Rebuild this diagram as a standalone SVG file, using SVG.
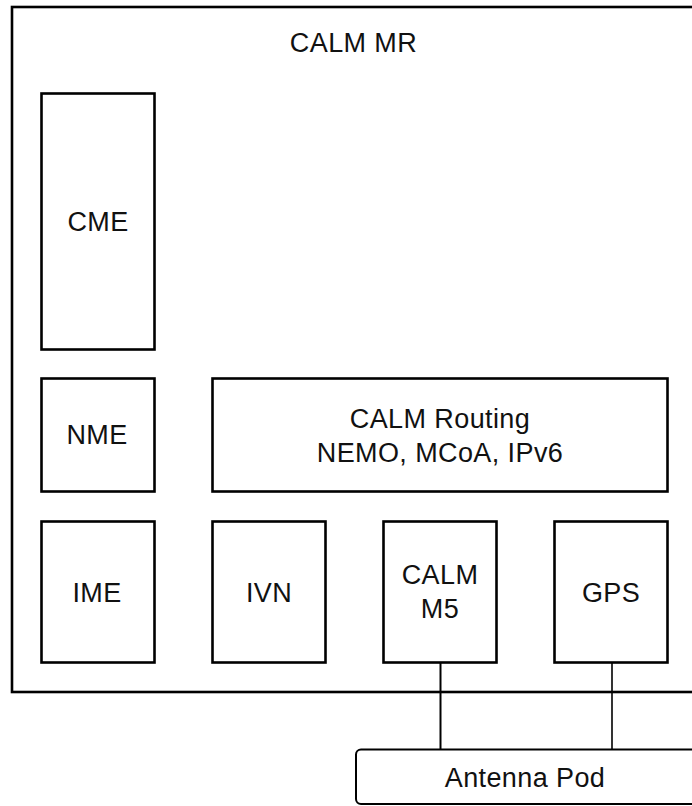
<svg xmlns="http://www.w3.org/2000/svg" width="692" height="806" viewBox="0 0 692 806">
<style>
.box{fill:#fff;stroke:#000;stroke-width:2.6}
.t{font-family:"Liberation Sans",Arial,sans-serif;font-size:27px;fill:#111;text-anchor:middle;letter-spacing:0.4px}
.ln{stroke:#000;fill:none}
</style>
<rect width="692" height="806" fill="#fff"/>
<g id="calm-mr">
<rect class="box" x="12" y="7" width="684" height="685"/>
<text class="t" x="353.5" y="52">CALM MR</text>
</g>
<g id="cme">
<rect class="box" x="41.5" y="93.5" width="113" height="256"/>
<text class="t" x="98" y="231">CME</text>
</g>
<g id="nme">
<rect class="box" x="41.5" y="378.5" width="113" height="113"/>
<text class="t" x="97" y="444">NME</text>
</g>
<g id="calm-routing">
<rect class="box" x="212.5" y="378.5" width="455" height="113"/>
<text class="t" x="440" y="427.5">CALM Routing</text>
<text class="t" x="440" y="461.5">NEMO, MCoA, IPv6</text>
</g>
<g id="ime">
<rect class="box" x="41.5" y="521.5" width="113" height="141"/>
<text class="t" x="97" y="601.5">IME</text>
</g>
<g id="ivn">
<rect class="box" x="212.5" y="521.5" width="113" height="141"/>
<text class="t" x="269" y="601.5">IVN</text>
</g>
<g id="calm-m5">
<rect class="box" x="383.5" y="521.5" width="113" height="141"/>
<text class="t" x="440" y="584.3">CALM</text>
<text class="t" x="440" y="618.3">M5</text>
</g>
<g id="gps">
<rect class="box" x="554.5" y="521.5" width="113" height="141"/>
<text class="t" x="611" y="601.5">GPS</text>
</g>
<g id="connectors">
<line class="ln" x1="440.5" y1="663" x2="440.5" y2="749" stroke-width="2"/>
<line class="ln" x1="612" y1="663" x2="612" y2="749" stroke-width="1.6"/>
</g>
<g id="antenna-pod">
<rect class="box" x="356" y="749.5" width="340" height="54.5" rx="5" ry="5" style="stroke-width:2"/>
<text class="t" x="525" y="787">Antenna Pod</text>
</g>
</svg>
